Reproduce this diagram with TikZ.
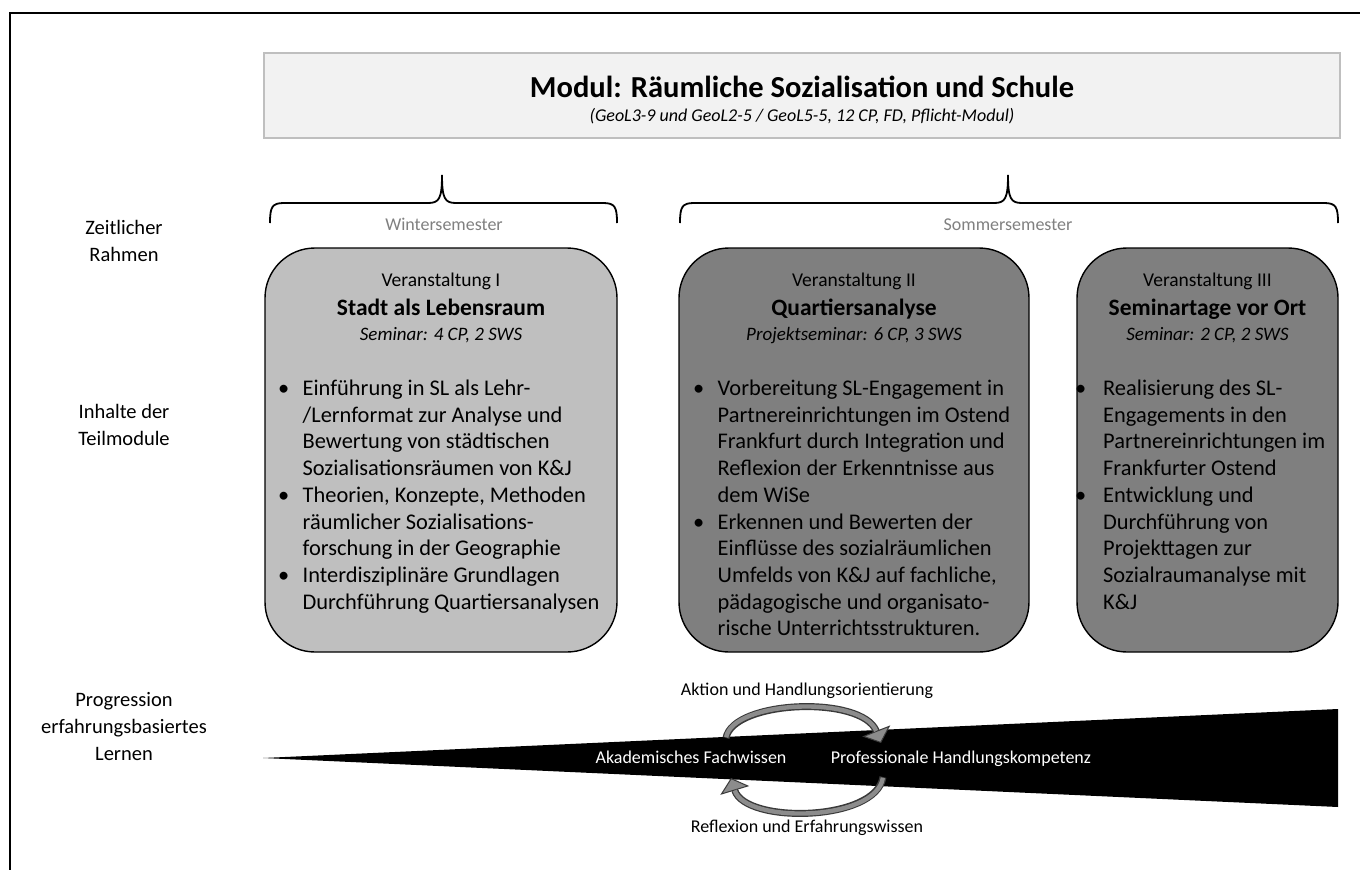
\documentclass[tikz,border=0pt]{standalone}
\usepackage{fontspec}
\setmainfont{Carlito}
\usetikzlibrary{arrows.meta}
\definecolor{topfill}{HTML}{F2F2F2}
\definecolor{topdraw}{HTML}{BFBFBF}
\definecolor{lightbox}{HTML}{BFBFBF}
\definecolor{darkbox}{HTML}{7F7F7F}
\definecolor{semgray}{HTML}{808080}
\definecolor{arrgray}{HTML}{8C8C8C}
\definecolor{arrdark}{HTML}{3A3A3A}
\newcommand{\fsz}[2]{\fontsize{#1}{#2}\selectfont}
\begin{document}
\begin{tikzpicture}[x=1pt,y=-1pt,
  course/.style={draw=black, line width=1.4pt, rounded corners=50pt, inner sep=0pt},
  hdr/.style={inner sep=0pt, anchor=base, font=\fsz{19.5}{23}},
  ttl/.style={inner sep=0pt, anchor=base, font=\bfseries\fsz{23.5}{28}},
  sub/.style={inner sep=0pt, anchor=base, font=\itshape\fsz{19}{23}},
  lst/.style={inner sep=0pt, anchor=base west, font=\fsz{22.4}{26.7}},
  side/.style={inner sep=0pt, anchor=base, font=\fsz{20.5}{27}},
  sem/.style={inner sep=0pt, anchor=base, font=\fsz{18}{22}, text=semgray},
  brace/.style={draw=black, line width=1.8pt},
  wtext/.style={inner sep=0pt, anchor=base, font=\fsz{18}{22}, text=white},
  ctext/.style={inner sep=0pt, anchor=base, font=\fsz{18}{22}},
  cyc/.style={line width=7pt, draw=arrdark, -{Triangle[length=13pt,width=30pt,line width=1pt,fill=arrgray]}},
  cycin/.style={line width=4.4pt, draw=arrgray, shorten >=13pt, shorten <=0.8pt}
]
\useasboundingbox (0,0) rectangle (1360,870);
\fill[white] (0,0) rectangle (1360,870);
\draw[line width=1.5pt] (10,871) -- (10,13) -- (1361,13);

% title box
\node[draw=topdraw, fill=topfill, line width=1.5pt, minimum width=1076pt, minimum height=85pt, inner sep=0pt] (mod) at (802,95.5) {};
\node[inner sep=0pt, anchor=base, font=\bfseries\fsz{30.5}{36}] (modt) at (802,97.5) {Modul: Räumliche Sozialisation und Schule};
\node[inner sep=0pt, anchor=base, font=\itshape\fsz{18}{22}] (mods) at (802,121) {(GeoL3-9 und GeoL2-5 / GeoL5-5, 12 CP, FD, Pflicht-Modul)};

% side labels
\node[side] (zr) at (124,234.5) {\begin{tabular}[t]{@{}c@{}}Zeitlicher\\Rahmen\end{tabular}};
\node[side] (it) at (124,418.5) {\begin{tabular}[t]{@{}c@{}}Inhalte der\\Teilmodule\end{tabular}};
\node[side] (pe) at (124,706.5) {\begin{tabular}[t]{@{}c@{}}Progression\\erfahrungsbasiertes\\Lernen\end{tabular}};

% braces
\draw[brace] (270,223) .. controls (270,207) and (272,203) .. (284,203) -- (428,203) .. controls (439,203) and (442,199) .. (442,175) .. controls (442,199) and (445,203) .. (456,203) -- (603,203) .. controls (615,203) and (617,207) .. (617,223);
\draw[brace] (680,223) .. controls (680,207) and (682,203) .. (694,203) -- (994,203) .. controls (1005,203) and (1008,199) .. (1008,175) .. controls (1008,199) and (1011,203) .. (1022,203) -- (1324,203) .. controls (1336,203) and (1338,207) .. (1338,223);
\node[sem] (ws) at (444,230.8) {Wintersemester};
\node[sem] (ss) at (1008,230.8) {Sommersemester};

% course boxes
\node[course, fill=lightbox, minimum width=352pt, minimum height=404pt] (v1) at (441,450) {};
\node[course, fill=darkbox, minimum width=350pt, minimum height=404pt] (v2) at (854,450) {};
\node[course, fill=darkbox, minimum width=261pt, minimum height=404pt] (v3) at (1207.5,450) {};

\node[hdr] (v1a) at (441,286.5) {Veranstaltung I};
\node[ttl] (v1b) at (441,315.5) {Stadt als Lebensraum};
\node[sub] (v1c) at (441,340) {Seminar: 4 CP, 2 SWS};
\node[hdr] (v2a) at (854,286.5) {Veranstaltung II};
\node[ttl] (v2b) at (854,315.5) {Quartiersanalyse};
\node[sub] (v2c) at (854,340) {Projektseminar: 6 CP, 3 SWS};
\node[hdr] (v3a) at (1207.5,286.5) {Veranstaltung III};
\node[ttl] (v3b) at (1207.5,315.5) {Seminartage vor Ort};
\node[sub] (v3c) at (1207.5,340) {Seminar: 2 CP, 2 SWS};

\node[lst] (l1) at (278,395.5) {\begin{tabular}[t]{@{}p{24.5pt}@{}l@{}}
\textbullet & Einführung in SL als Lehr-\\
 & /Lernformat zur Analyse und\\
 & Bewertung von städtischen\\
 & Sozialisationsräumen von K\&J\\
\textbullet & Theorien, Konzepte, Methoden\\
 & räumlicher Sozialisations-\\
 & forschung in der Geographie\\
\textbullet & Interdisziplinäre Grundlagen\\
 & Durchführung Quartiersanalysen
\end{tabular}};
\node[lst] (l2) at (693,395.5) {\begin{tabular}[t]{@{}p{24.5pt}@{}l@{}}
\textbullet & Vorbereitung SL-Engagement in\\
 & Partnereinrichtungen im Ostend\\
 & Frankfurt durch Integration und\\
 & Reflexion der Erkenntnisse aus\\
 & dem WiSe\\
\textbullet & Erkennen und Bewerten der\\
 & Einflüsse des sozialräumlichen\\
 & Umfelds von K\&J auf fachliche,\\
 & pädagogische und organisato-\\
 & rische Unterrichtsstrukturen.
\end{tabular}};
\node[lst] (l3) at (1075,395.5) {\begin{tabular}[t]{@{}p{28pt}@{}l@{}}
\textbullet & Realisierung des SL-\\
 & Engagements in den\\
 & Partnereinrichtungen im\\
 & Frankfurter Ostend\\
\textbullet & Entwicklung und\\
 & Durchführung von\\
 & Projekttagen zur\\
 & Sozialraumanalyse mit\\
 & K\&J
\end{tabular}};

% wedge
\coordinate (wtip) at (263,758);
\coordinate (wtop) at (1338,709);
\coordinate (wbot) at (1338,807);
\fill[black] (wtip) -- (wtop) -- (wbot) -- cycle;
\node[wtext] (af) at (691,763.8) {Akademisches Fachwissen};
\node[wtext] (ph) at (961,763.8) {Professionale Handlungskompetenz};
\node[ctext] (ah) at (807,695.8) {Aktion und Handlungsorientierung};
\node[ctext] (re) at (807,832.8) {Reflexion und Erfahrungswissen};

% cycle arrows
\coordinate (a1s) at (726,738);
\coordinate (a1e) at (881,743);
\coordinate (a2s) at (883,777);
\coordinate (a2e) at (731,778);
\draw[cyc] (a1s) .. controls (733,700) and (862,695) .. (a1e);
\draw[cycin] (a1s) .. controls (733,700) and (862,695) .. (a1e);
\draw[cyc] (a2s) .. controls (876,822) and (745,824) .. (a2e);
\draw[cycin] (a2s) .. controls (876,822) and (745,824) .. (a2e);
\end{tikzpicture}
\end{document}
